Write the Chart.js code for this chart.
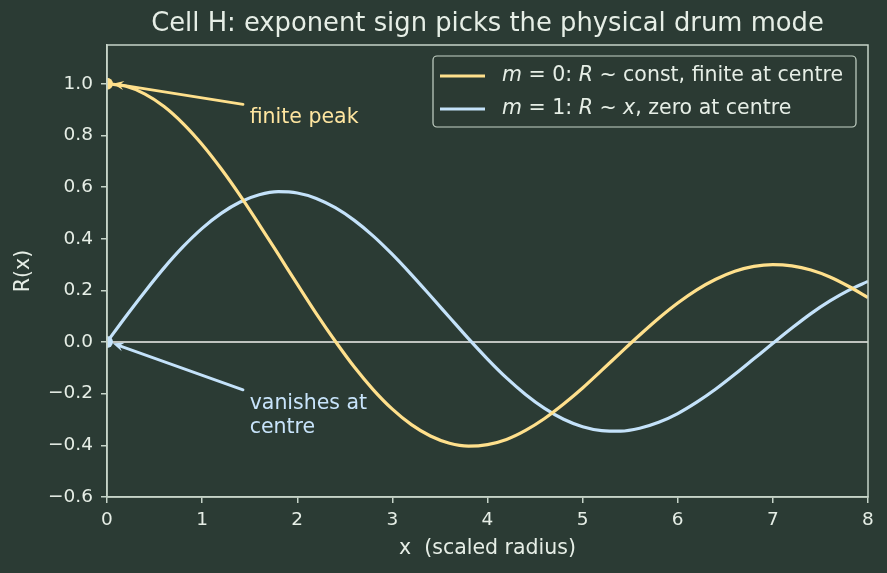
<!DOCTYPE html>
<html>
<head>
<meta charset="utf-8">
<script src="https://cdn.jsdelivr.net/npm/chart.js@4"></script>
<style>
    html, body { margin: 0; padding: 0; background: #2b3b34; }
    #wrap { width: 887px; height: 573px; }
</style>
</head>
<body>
<div id="wrap"><canvas id="myChart" width="887" height="573"></canvas></div>
<script>
const xs = [0, 0.2, 0.4, 0.6, 0.8, 1.0, 1.2, 1.4, 1.6, 1.8, 2.0, 2.2, 2.4, 2.6, 2.8, 3.0, 3.2, 3.4, 3.6, 3.8,
    4.0, 4.2, 4.4, 4.6, 4.8, 5.0, 5.2, 5.4, 5.6, 5.8, 6.0, 6.2, 6.4, 6.6, 6.8, 7.0, 7.2, 7.4, 7.6, 7.8, 8.0];
const modeZero = [1.0, 0.990, 0.960, 0.912, 0.846, 0.765, 0.671, 0.567, 0.455, 0.340, 0.224, 0.110, 0.003,
    -0.097, -0.185, -0.260, -0.320, -0.364, -0.392, -0.403, -0.397, -0.377, -0.342, -0.296, -0.240, -0.178,
    -0.110, -0.041, 0.027, 0.092, 0.151, 0.202, 0.243, 0.274, 0.293, 0.300, 0.295, 0.279, 0.252, 0.215, 0.172];
const modeOne = [0, 0.100, 0.196, 0.287, 0.369, 0.440, 0.498, 0.542, 0.570, 0.582, 0.577, 0.556, 0.520,
    0.471, 0.410, 0.339, 0.261, 0.179, 0.096, 0.013, -0.066, -0.139, -0.203, -0.257, -0.299, -0.328,
    -0.343, -0.345, -0.334, -0.311, -0.277, -0.233, -0.182, -0.125, -0.065, -0.005, 0.054, 0.110, 0.159, 0.201, 0.235];
const xTicks = [0, 1, 2, 3, 4, 5, 6, 7, 8];
const yTicks = [-0.6, -0.4, -0.2, 0.0, 0.2, 0.4, 0.6, 0.8, 1.0];

const BG = '#2b3b34';
const FG = '#e6eee6';
const SPINE = '#c6d4c8';
const YELLOW = '#ffe08c';
const BLUE = '#c4e2fa';
const FONT = '"DejaVu Sans", sans-serif';

function toPoints(ys) {
    return xs.map((x, i) => ({ x: x, y: ys[i] }));
}

function fmt(v) {
    const s = Math.abs(v).toFixed(1);
    return v < -1e-9 ? '\u2212' + s : s;
}

function arrow(ctx, x1, y1, x2, y2, color) {
    const a = Math.atan2(y2 - y1, x2 - x1);
    const h = 12;
    ctx.save();
    ctx.strokeStyle = color;
    ctx.fillStyle = color;
    ctx.lineWidth = 2.8;
    ctx.lineCap = 'round';
    ctx.beginPath();
    ctx.moveTo(x1, y1);
    ctx.lineTo(x2 - 6 * Math.cos(a), y2 - 6 * Math.sin(a));
    ctx.stroke();
    ctx.beginPath();
    ctx.moveTo(x2, y2);
    ctx.lineTo(x2 + h * Math.cos(a + Math.PI - 0.38), y2 + h * Math.sin(a + Math.PI - 0.38));
    ctx.lineTo(x2 + h * 0.6 * Math.cos(a + Math.PI), y2 + h * 0.6 * Math.sin(a + Math.PI));
    ctx.lineTo(x2 + h * Math.cos(a + Math.PI + 0.38), y2 + h * Math.sin(a + Math.PI + 0.38));
    ctx.closePath();
    ctx.fill();
    ctx.restore();
}

const decor = {
    id: 'decor',
    beforeDraw(chart) {
        const ctx = chart.ctx;
        ctx.save();
        ctx.fillStyle = BG;
        ctx.fillRect(0, 0, chart.width, chart.height);
        ctx.restore();
    },
    beforeDatasetsDraw(chart) {
        const { ctx, chartArea: a, scales: { y } } = chart;
        const y0 = y.getPixelForValue(0);
        ctx.save();
        ctx.strokeStyle = '#f2f2ee';
        ctx.lineWidth = 1.5;
        ctx.beginPath();
        ctx.moveTo(a.left, y0);
        ctx.lineTo(a.right, y0);
        ctx.stroke();
        ctx.restore();
    },
    afterDraw(chart) {
        const { ctx, chartArea: a, scales: { x, y } } = chart;
        ctx.save();
        // frame
        ctx.strokeStyle = SPINE;
        ctx.lineWidth = 1.5;
        ctx.strokeRect(a.left, a.top, a.right - a.left, a.bottom - a.top);

        // title
        ctx.fillStyle = FG;
        ctx.font = '25.8px ' + FONT;
        ctx.textAlign = 'center';
        ctx.textBaseline = 'middle';
        ctx.fillText('Cell H: exponent sign picks the physical drum mode', (a.left + a.right) / 2, 24);

        // axis titles
        ctx.font = '20.5px ' + FONT;
        ctx.fillText('x  (scaled radius)', (a.left + a.right) / 2, 549);
        ctx.save();
        ctx.translate(24, (a.top + a.bottom) / 2);
        ctx.rotate(-Math.PI / 2);
        ctx.fillText('R(x)', 0, 0);
        ctx.restore();

        // annotations
        arrow(ctx, x.getPixelForValue(1.43), y.getPixelForValue(0.92), x.getPixelForValue(0.06), y.getPixelForValue(1.0), YELLOW);
        arrow(ctx, x.getPixelForValue(1.43), y.getPixelForValue(-0.185), x.getPixelForValue(0.06), y.getPixelForValue(-0.005), BLUE);
        ctx.font = '20.5px ' + FONT;
        ctx.textAlign = 'left';
        ctx.fillStyle = '#ffe6a0';
        ctx.fillText('finite peak', x.getPixelForValue(1.5), y.getPixelForValue(0.87));
        ctx.fillStyle = '#c8e4fb';
        ctx.fillText('vanishes at', x.getPixelForValue(1.5), y.getPixelForValue(-0.237));
        ctx.fillText('centre', x.getPixelForValue(1.5), y.getPixelForValue(-0.33));

        // legend
        const lx = 433, ly = 56, lw = 423, lh = 71;
        ctx.beginPath();
        ctx.roundRect(lx, ly, lw, lh, 4);
        ctx.fillStyle = 'rgba(43,59,52,0.85)';
        ctx.fill();
        ctx.strokeStyle = SPINE;
        ctx.lineWidth = 1.2;
        ctx.stroke();

        const rows = [
            { color: YELLOW, parts: [['m', 1], [' = 0: ', 0], ['R', 1], [' ~ ', 0], ['const, finite at centre', 0]] },
            { color: BLUE, parts: [['m', 1], [' = 1: ', 0], ['R', 1], [' ~ ', 0], ['x', 1], [', zero at centre', 0]] }
        ];
        rows.forEach((row, i) => {
            const yy = ly + 20 + i * 33;
            ctx.strokeStyle = row.color;
            ctx.lineWidth = 3.2;
            ctx.beginPath();
            ctx.moveTo(440, yy);
            ctx.lineTo(485, yy);
            ctx.stroke();
            let tx = 502;
            ctx.fillStyle = FG;
            ctx.textBaseline = 'middle';
            row.parts.forEach(([t, it]) => {
                ctx.font = (it ? 'italic ' : '') + '20.5px ' + FONT;
                ctx.fillText(t, tx, yy);
                tx += ctx.measureText(t).width;
            });
        });
        ctx.restore();
    }
};

const ctx = document.getElementById('myChart').getContext('2d');

const chart = new Chart(ctx, { //eslint-disable-line
    type: 'line',
    data: {
        datasets: [
            {
                label: 'm = 0',
                data: toPoints(modeZero),
                borderColor: YELLOW,
                backgroundColor: YELLOW,
                borderWidth: 3.2,
                pointStyle: 'circle',
                pointRadius: xs.map((x, i) => (i === 0 ? 6 : 0)),
                pointBorderWidth: 0,
                cubicInterpolationMode: 'monotone'
            },
            {
                label: 'm = 1',
                data: toPoints(modeOne),
                borderColor: BLUE,
                backgroundColor: BLUE,
                borderWidth: 3.2,
                pointStyle: 'circle',
                pointRadius: xs.map((x, i) => (i === 0 ? 6 : 0)),
                pointBorderWidth: 0,
                cubicInterpolationMode: 'monotone'
            }
        ]
    },
    options: {
        responsive: false,
        animation: false,
        events: [],
        layout: { padding: { left: 0, right: 19, top: 45, bottom: 0 } },
        plugins: {
            legend: { display: false },
            title: { display: false },
            tooltip: { enabled: false }
        },
        scales: {
            x: {
                type: 'linear',
                min: 0,
                max: 8,
                afterFit: (s) => { s.height = 76; },
                afterBuildTicks: (s) => { s.ticks = xTicks.map((v) => ({ value: v })); },
                grid: { display: true, drawOnChartArea: false, drawTicks: true, tickLength: 6, color: SPINE, lineWidth: 1.5 },
                border: { display: true, color: SPINE, width: 1.5 },
                ticks: { color: FG, font: { family: FONT, size: 18.5 }, padding: 6, maxRotation: 0, callback: (v) => String(v) }
            },
            y: {
                type: 'linear',
                min: -0.6,
                max: 1.15,
                afterFit: (s) => { s.width = 107; },
                afterBuildTicks: (s) => { s.ticks = yTicks.map((v) => ({ value: v })); },
                grid: { display: true, drawOnChartArea: false, drawTicks: true, tickLength: 6, color: SPINE, lineWidth: 1.5 },
                border: { display: true, color: SPINE, width: 1.5 },
                ticks: { color: FG, font: { family: FONT, size: 18.5 }, padding: 8, callback: (v) => fmt(v) }
            }
        }
    },
    plugins: [decor]
});
</script>
</body>
</html>
